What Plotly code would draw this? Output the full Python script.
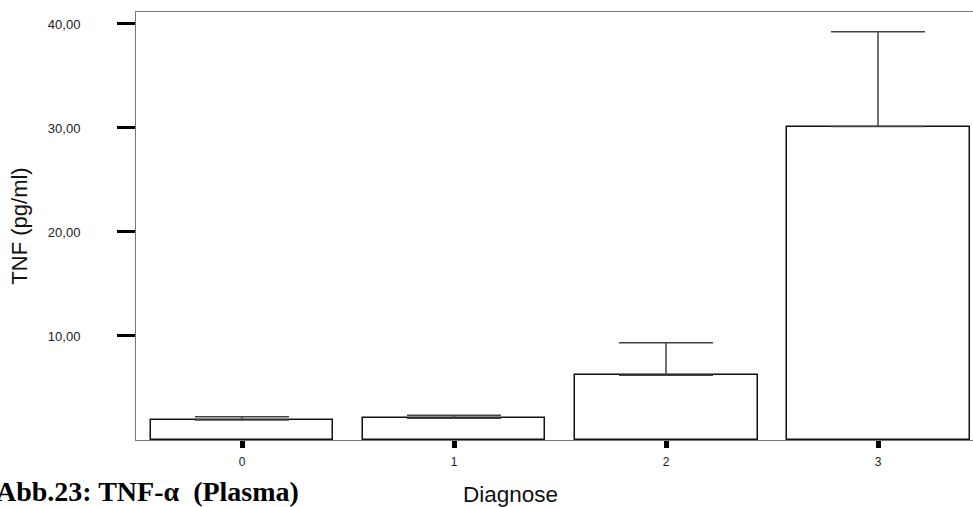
import plotly.graph_objects as go

# Mean TNF-alpha plasma levels per diagnosis group, with upper error bars
categories = ["0", "1", "2", "3"]
means = [1.92, 2.08, 6.22, 30.13]
err_upper = [0.32, 0.29, 3.14, 9.13]
y_tickvals = [10, 20, 30, 40]
y_ticktext = ["10,00", "20,00", "30,00", "40,00"]

W, H = 973, 507
M_L, M_R, M_T, M_B = 136, 0, 12, 67
plot_h = H - M_T - M_B

x_pos = list(range(len(categories)))

fig = go.Figure()
fig.add_trace(go.Bar(
    x=x_pos,
    y=means,
    width=0.863,
    marker=dict(color="white", line=dict(color="#111111", width=1.5)),
    error_y=dict(
        type="data",
        symmetric=False,
        array=err_upper,
        arrayminus=[0] * len(err_upper),
        color="#444444",
        thickness=1.5,
        width=47,
    ),
    showlegend=False,
))

def py(pixel_y):
    return (H - M_B - pixel_y) / plot_h

def px(pixel_x):
    return (pixel_x - M_L) / (W - M_L - M_R)

fig.update_layout(
    width=W,
    height=H,
    margin=dict(l=M_L, r=M_R, t=M_T, b=M_B, pad=0),
    paper_bgcolor="white",
    plot_bgcolor="white",
    bargap=0,
    font=dict(family="Liberation Sans, Arial, sans-serif", color="#111111"),
    xaxis=dict(
        range=[-0.5, 3.448],
        tickmode="array",
        tickvals=x_pos,
        ticktext=categories,
        ticks="outside",
        ticklen=7,
        tickwidth=5,
        tickcolor="black",
        tickfont=dict(size=12, color="#222222"),
        ticklabelstandoff=4,
        showline=True,
        linecolor="#777777",
        linewidth=1,
        mirror=True,
        showgrid=False,
        zeroline=False,
    ),
    yaxis=dict(
        range=[0, 41.15],
        tickmode="array",
        tickvals=y_tickvals,
        ticktext=y_ticktext,
        ticks="outside",
        ticklen=18,
        tickwidth=3,
        tickcolor="black",
        tickfont=dict(size=13, color="#222222"),
        ticklabelstandoff=34,
        showline=True,
        linecolor="#777777",
        linewidth=1,
        showgrid=False,
        zeroline=False,
        title=dict(text="TNF (pg/ml)", font=dict(size=22, color="#111111"), standoff=14),
    ),
    annotations=[
        dict(
            text="Diagnose",
            xref="paper", yref="paper",
            x=px(510), y=py(494),
            xanchor="center", yanchor="middle",
            showarrow=False,
            font=dict(size=22.5, color="#111111", family="Liberation Sans, Arial, sans-serif"),
        ),
        dict(
            text="<b>Abb.23: TNF-\u03b1\u00a0 (Plasma)</b>",
            xref="paper", yref="paper",
            x=px(-6), y=py(492),
            xanchor="left", yanchor="middle",
            showarrow=False,
            font=dict(size=28, color="black", family="Liberation Serif, Times New Roman, serif"),
        ),
    ],
)

fig.write_html("out.html")
